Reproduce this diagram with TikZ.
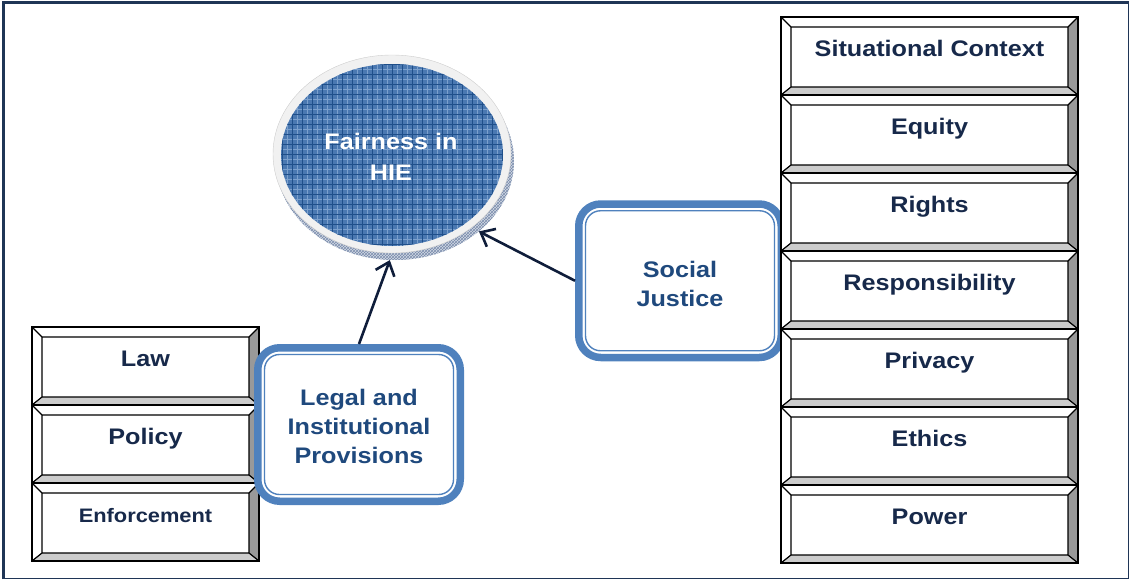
\documentclass[tikz,border=0pt]{standalone}
\usepackage{fontspec}
\setmainfont{Liberation Sans}[FakeStretch=1.12]
\usetikzlibrary{shapes.geometric,arrows.meta,calc,patterns}
\definecolor{frameblue}{HTML}{1F3556}
\definecolor{boxtext}{HTML}{17294A}
\definecolor{boxblue}{HTML}{4F81BD}
\definecolor{sjtext}{HTML}{1F497D}
\definecolor{disc}{HTML}{4A78B1}
\definecolor{discgrid}{HTML}{1F4F8A}
\definecolor{discfine}{HTML}{7BA0CD}
\definecolor{ring}{HTML}{F1F1F1}
\definecolor{rimfill}{HTML}{D3DAE5}
\definecolor{rimhatch}{HTML}{7A8CAC}
\definecolor{bevdark}{HTML}{999999}
\definecolor{bevlight}{HTML}{CCCCCC}
\definecolor{arrowc}{HTML}{0F1D3A}
\tikzset{
  bevelbox/.style={rectangle, draw=black, line width=1.3pt, fill=white,
    minimum height=78pt, inner sep=0pt, outer sep=0pt, text=boxtext,
    font=\bfseries\fontsize{22.5}{27}\selectfont, text height=10pt, text depth=9pt,
    path picture={
      \coordinate (bA) at (path picture bounding box.north west);
      \coordinate (bB) at (path picture bounding box.north east);
      \coordinate (bC) at (path picture bounding box.south east);
      \coordinate (bD) at (path picture bounding box.south west);
      \coordinate (iA) at ($(bA)+(10,10)$);
      \coordinate (iB) at ($(bB)+(-10,10)$);
      \coordinate (iC) at ($(bC)+(-10,-8)$);
      \coordinate (iD) at ($(bD)+(10,-8)$);
      \fill[bevdark] (bB) -- (bC) -- (iC) -- (iB) -- cycle;
      \fill[bevlight] (bD) -- (bC) -- (iC) -- (iD) -- cycle;
      \draw[black, line width=1.2pt] (iA) rectangle (iC) (bA) -- (iA) (bB) -- (iB) (bC) -- (iC) (bD) -- (iD);
    }},
  framebox/.style={rectangle, rounded corners=22pt, draw=boxblue, line width=7.5pt,
    fill=white, minimum width=202.5pt, minimum height=153.5pt, inner sep=0pt},
  frametext/.style={align=center, text=sjtext, inner sep=0pt,
    font=\bfseries\fontsize{22.5}{29}\selectfont},
  innerline/.style={draw=boxblue, line width=1.4pt, rounded corners=15pt},
  conn/.style={draw=arrowc, line width=2.6pt, -{Straight Barb[length=12pt,width=20pt]}},
}
\begin{document}
\begin{tikzpicture}[x=1pt,y=-1pt]
\useasboundingbox (0,0) rectangle (1130,581);
% frame
\draw[frameblue, line width=1.1pt] (3.5,2) rectangle (1128.5,578.5);
\draw[frameblue, line width=3pt] (3.5,579) -- (3.5,2) -- (1128.5,2);

% central disc
\node[ellipse, fill=rimfill, minimum width=238pt, minimum height=198pt, inner sep=0pt] (rim) at (395,161) {};
\path[pattern=crosshatch, pattern color=rimhatch] (rim.center) ellipse [x radius=119pt, y radius=99pt];
\node[ellipse, fill=ring, draw=ring!85!black, line width=0.4pt, minimum width=238pt, minimum height=198pt,
  inner sep=0pt,
  path picture={
    \begin{scope}
      \clip ($(path picture bounding box.center)+(0,1)$) ellipse [x radius=111pt, y radius=91pt];
      \fill[disc] (path picture bounding box.south west) rectangle (path picture bounding box.north east);
      \draw[discfine, line width=0.4pt, step=5pt] (path picture bounding box.south west) grid (path picture bounding box.north east);
      \draw[discgrid, line width=0.8pt, step=10pt] (path picture bounding box.south west) grid (path picture bounding box.north east);
    \end{scope}
  }] (fair) at (392,154) {};
\node[align=center, text=white, inner sep=0pt, font=\bfseries\fontsize{22.5}{31.5}\selectfont]
  (fairtext) at (391,157) {Fairness in\\HIE};

% social justice box
\node[framebox] (sj) at (680,280.75) {};
\draw[innerline] ($(sj.north west)+(10.5,10.5)$) rectangle ($(sj.south east)+(-10.5,-10.5)$);
\node[frametext] (sjtext) at (680,283.5) {Social\\Justice};

% right column
\node[bevelbox, minimum width=297pt] (sc)  at (929.5,56)  {Situational Context};
\node[bevelbox, minimum width=297pt] (eq)  at (929.5,134) {Equity};
\node[bevelbox, minimum width=297pt] (ri)  at (929.5,212) {Rights};
\node[bevelbox, minimum width=297pt] (re)  at (929.5,290) {Responsibility};
\node[bevelbox, minimum width=297pt] (pr)  at (929.5,368) {Privacy};
\node[bevelbox, minimum width=297pt] (et)  at (929.5,446) {Ethics};
\node[bevelbox, minimum width=297pt] (po)  at (929.5,524) {Power};

% left column
\node[bevelbox, minimum width=227pt] (law) at (145.5,366) {Law};
\node[bevelbox, minimum width=227pt] (pol) at (145.5,444) {Policy};
\node[bevelbox, minimum width=227pt, font=\bfseries\fontsize{19.5}{23}\selectfont] (enf) at (145.5,522) {Enforcement};

% legal box
\node[framebox] (legal) at (359,424.5) {};
\draw[innerline] ($(legal.north west)+(10.5,10.5)$) rectangle ($(legal.south east)+(-10.5,-10.5)$);
\node[frametext] (legaltext) at (359,426) {Legal and\\Institutional\\Provisions};

% connectors
\draw[conn] (legal.north) -- (rim.-93);
\draw[conn] (sj.west) -- (rim.-40);
\end{tikzpicture}
\end{document}
